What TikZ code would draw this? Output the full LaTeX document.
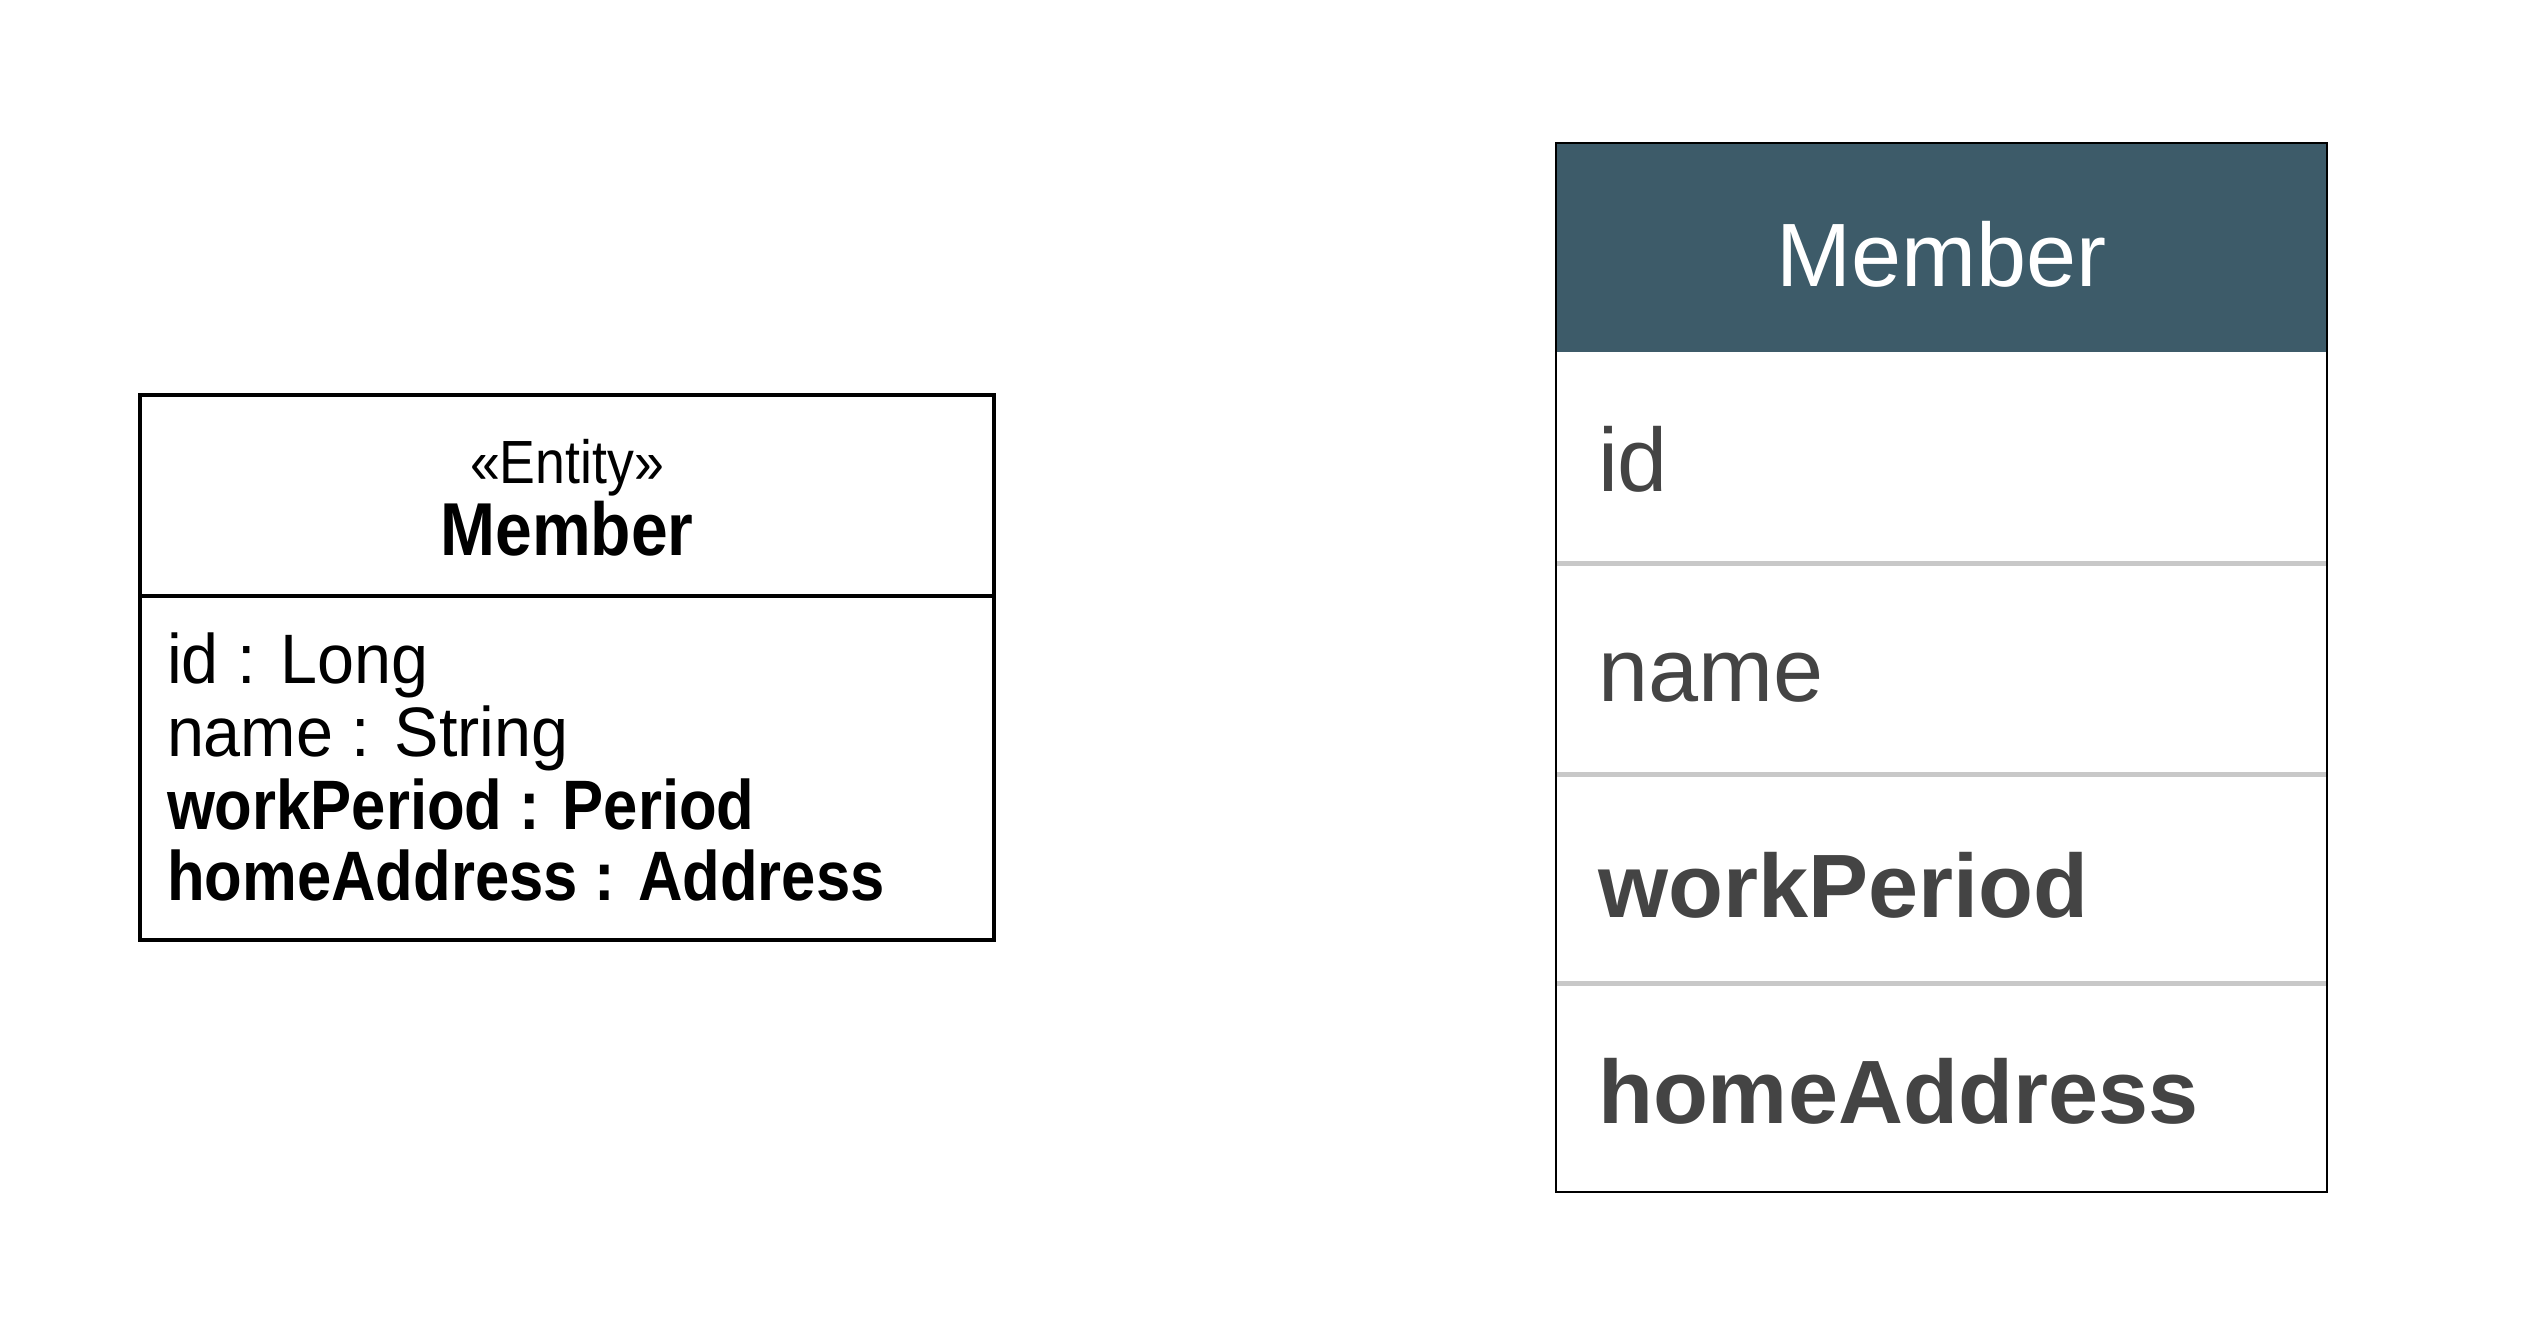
\documentclass[tikz,border=0pt]{standalone}
\usepackage{fontspec}
\setmainfont{Liberation Sans}
\newfontfamily\umlfont[FakeStretch=0.88]{Liberation Sans}
\newfontfamily\umlfontwide[FakeStretch=0.95]{Liberation Sans}
\usetikzlibrary{positioning}
\definecolor{headblue}{HTML}{3D5B69}
\definecolor{rowgray}{HTML}{C8C8C8}
\definecolor{cellink}{HTML}{444444}

\begin{document}
\begin{tikzpicture}[x=1pt,y=-1pt,every node/.style={inner sep=0pt,outer sep=0pt},
  attr/.style={anchor=base west,font=\umlfontwide\fontsize{70}{70}\selectfont},
  battr/.style={anchor=base west,font=\umlfont\bfseries\fontsize{70}{70}\selectfont},
  cell/.style={anchor=base west,text=cellink,font=\fontsize{90}{90}\selectfont},
  bcell/.style={cell,font=\bfseries\fontsize{90}{90}\selectfont}]
  \useasboundingbox (0,0) rectangle (2544,1340);
%
% uml class
  \draw[line width=4pt] (140,395) rectangle (994,940);
  \draw[line width=4pt] (140,596) -- (994,596);
  \node[anchor=base,font=\umlfont\fontsize{61}{61}\selectfont] (stereo) at (567,483) {«Entity»};
  \node[anchor=base,font=\umlfont\bfseries\fontsize{75}{75}\selectfont] (umlname) at (567,555) {Member};
  \node[attr]  (aid)   at (167,683) {id : Long};
  \node[attr]  (aname) at (167,756) {name : String};
  \node[battr] (awork) at (167,829) {workPeriod : Period};
  \node[battr] (ahome) at (167,900) {homeAddress : Address};
%
% table
  \fill[headblue] (1556,143) rectangle (2327,352);
  \foreach \y in {563,774,983}
    \draw[rowgray,line width=5pt] (1556,\y) -- (2327,\y);
  \draw[line width=2.5pt] (1556,143) rectangle (2327,1192);
  \node[anchor=base,text=white,font=\fontsize{90}{90}\selectfont] (thead) at (1941.5,287) {Member};
  \node[cell]  (cid)   at (1598,491)  {id};
  \node[cell]  (cname) at (1598,701)  {name};
  \node[bcell] (cwork) at (1598,917)  {workPeriod};
  \node[bcell] (chome) at (1598,1123) {homeAddress};
%
\end{tikzpicture}
\end{document}
